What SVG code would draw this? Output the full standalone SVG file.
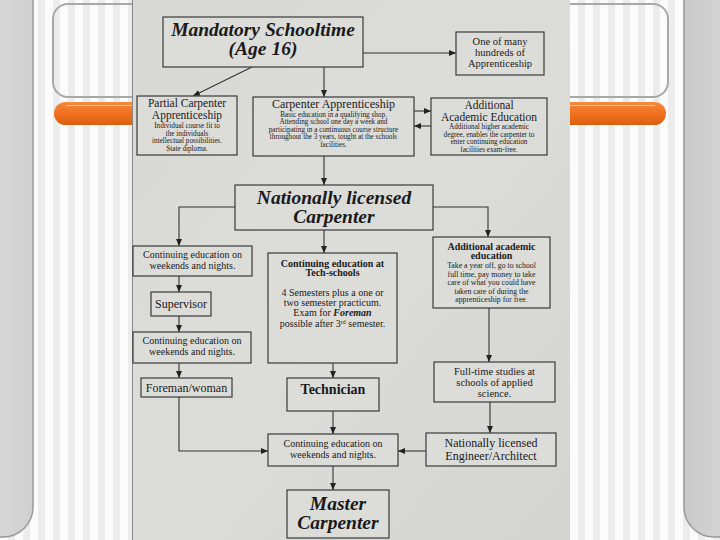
<svg xmlns="http://www.w3.org/2000/svg" width="720" height="540" viewBox="0 0 720 540">
<defs>
  <pattern id="stripes" x="0" y="0" width="15" height="10" patternUnits="userSpaceOnUse">
    <rect width="15" height="10" fill="#fbfbfb"/>
    <rect x="8" width="7" height="10" fill="#ececec"/>
  </pattern>
  <linearGradient id="panel" x1="0" y1="0" x2="1" y2="0">
    <stop offset="0" stop-color="#c9c9c9"/>
    <stop offset="0.6" stop-color="#d6d6d6"/>
    <stop offset="1" stop-color="#cfcfcf"/>
  </linearGradient>
  <linearGradient id="orange" x1="0" y1="0" x2="0" y2="1">
    <stop offset="0" stop-color="#f58a3c"/>
    <stop offset="0.5" stop-color="#f07020"/>
    <stop offset="1" stop-color="#d9600f"/>
  </linearGradient>
  <linearGradient id="photo" x1="0" y1="0" x2="1" y2="1">
    <stop offset="0" stop-color="#d8d8d5"/>
    <stop offset="0.5" stop-color="#dcdcd9"/>
    <stop offset="1" stop-color="#d4d4d1"/>
  </linearGradient>
  <marker id="ah" markerUnits="userSpaceOnUse" markerWidth="8" markerHeight="8" refX="7" refY="3" orient="auto">
    <path d="M0,0 L7,3 L0,6 Z" fill="#222"/>
  </marker>
  <style>
    .box { fill: #dcdcd9; stroke: #3a3a3a; stroke-width: 1.2; }
    .arr { fill: none; stroke: #333; stroke-width: 1.1; marker-end: url(#ah); }
    text { font-family: "Liberation Serif", "Times New Roman", serif; fill: #1a1a1a; text-anchor: middle; }
    .big { font-size: 19.5px; font-weight: bold; font-style: italic; }
    .t12 { font-size: 12px; }
    .t115 { font-size: 11.5px; }
    .t105 { font-size: 10.5px; }
    .t10 { font-size: 10px; }
    .s78 { font-size: 7.8px; }
    .s7 { font-size: 7.2px; }
    .b { font-weight: bold; }
  </style>
</defs>

<!-- slide background -->
<rect width="720" height="540" fill="url(#stripes)"/>
<rect x="-40" y="-30" width="73" height="567" rx="30" fill="url(#panel)" stroke="#9a9a9a" stroke-width="1.5"/>
<rect x="684" y="-30" width="80" height="567" rx="30" fill="url(#panel)" stroke="#9a9a9a" stroke-width="1.5"/>
<rect x="53" y="4" width="615" height="93" rx="15" fill="none" stroke="#a8a8a8" stroke-width="2"/>
<rect x="54" y="102" width="612" height="23" rx="11.5" fill="url(#orange)"/>
<line x1="66" y1="105.5" x2="655" y2="105.5" stroke="#fbc9a0" stroke-width="1.2"/>

<!-- photo -->
<rect x="132" y="0" width="438" height="540" fill="url(#photo)"/>
<line x1="132.5" y1="0" x2="132.5" y2="540" stroke="#8a8a88" stroke-width="1"/>

<g id="connectors">
  <line class="arr" x1="363" y1="53" x2="456" y2="53"/>
  <line class="arr" x1="252" y1="67" x2="193" y2="96"/>
  <line class="arr" x1="324" y1="67" x2="324" y2="97"/>
  <line class="arr" x1="414" y1="111" x2="431" y2="111"/>
  <line class="arr" x1="431" y1="126" x2="414" y2="126"/>
  <line class="arr" x1="324" y1="156" x2="324" y2="185"/>
  <polyline class="arr" points="235,207 179,207 179,246"/>
  <line class="arr" x1="324" y1="230" x2="324" y2="253"/>
  <polyline class="arr" points="433,207 488,207 488,237"/>
  <line class="arr" x1="179" y1="276" x2="179" y2="292"/>
  <line class="arr" x1="179" y1="316" x2="179" y2="332"/>
  <line class="arr" x1="179" y1="363" x2="179" y2="378"/>
  <polyline class="arr" points="179,397 179,451 268,451"/>
  <line class="arr" x1="333" y1="363" x2="333" y2="378"/>
  <line class="arr" x1="333" y1="411" x2="333" y2="434"/>
  <line class="arr" x1="489" y1="308" x2="489" y2="362"/>
  <line class="arr" x1="490" y1="402" x2="490" y2="433"/>
  <line class="arr" x1="426" y1="451" x2="398" y2="451"/>
  <line class="arr" x1="333" y1="466" x2="333" y2="490"/>
</g>

<g id="mandatory">
  <rect class="box" x="163" y="17" width="200" height="50"/>
  <text class="big" x="263" y="36">Mandatory Schooltime</text>
  <text class="big" x="263" y="55">(Age 16)</text>
</g>

<g id="one-of-many">
  <rect class="box" x="456" y="32" width="88" height="43"/>
  <text class="t105" x="500" y="45">One of many</text>
  <text class="t105" x="500" y="56">hundreds of</text>
  <text class="t105" x="500" y="67">Apprenticeship</text>
</g>

<g id="partial">
  <rect class="box" x="137" y="96" width="100" height="59"/>
  <text class="t115" x="187" y="107">Partial Carpenter</text>
  <text class="t115" x="187" y="119">Apprenticeship</text>
  <text class="s7" x="187" y="128">Individual course fit to</text>
  <text class="s7" x="187" y="135.5">the individuals</text>
  <text class="s7" x="187" y="143">intellectual possibilities.</text>
  <text class="s7" x="187" y="150.5">State diploma.</text>
</g>

<g id="carpenter-apprenticeship">
  <rect class="box" x="253" y="97" width="161" height="59"/>
  <text class="t12" x="333.5" y="108">Carpenter Apprenticeship</text>
  <text class="s7" x="333.5" y="116.5">Basic education in a qualifying shop.</text>
  <text class="s7" x="333.5" y="124">Attending school one day  a week and</text>
  <text class="s7" x="333.5" y="131.5">participating in a continuous course structure</text>
  <text class="s7" x="333.5" y="139">throughout the 3 years, tought at the schools</text>
  <text class="s7" x="333.5" y="146.5">facilities.</text>
</g>

<g id="additional-academic-education">
  <rect class="box" x="431" y="98" width="116" height="57"/>
  <text class="t115" x="489" y="108.5">Additional</text>
  <text class="t115" x="489" y="120.5">Academic Education</text>
  <text class="s7" x="489" y="129">Additional higher academic</text>
  <text class="s7" x="489" y="136.5">degree, enables the carpenter to</text>
  <text class="s7" x="489" y="144">enter continuing education</text>
  <text class="s7" x="489" y="151.5">facilities exam-free.</text>
</g>

<g id="nationally-licensed-carpenter">
  <rect class="box" x="235" y="185" width="198" height="45"/>
  <text class="big" x="334" y="204">Nationally licensed</text>
  <text class="big" x="334" y="223">Carpenter</text>
</g>

<g id="continuing-1">
  <rect class="box" x="133" y="246" width="119" height="30"/>
  <text class="t10" x="192.5" y="258">Continuing education on</text>
  <text class="t10" x="192.5" y="269">weekends and nights.</text>
</g>

<g id="supervisor">
  <rect class="box" x="151" y="292" width="60" height="24"/>
  <text class="t12" x="181" y="308">Supervisor</text>
</g>

<g id="continuing-2">
  <rect class="box" x="133" y="332" width="118" height="31"/>
  <text class="t10" x="192" y="344">Continuing education on</text>
  <text class="t10" x="192" y="355">weekends and nights.</text>
</g>

<g id="foreman">
  <rect class="box" x="141" y="378" width="91" height="19"/>
  <text class="t12" x="186.5" y="392">Foreman/woman</text>
</g>

<g id="tech-schools">
  <rect class="box" x="268" y="253" width="129" height="110"/>
  <text class="t10 b" x="332.5" y="266.5">Continuing education at</text>
  <text class="t10 b" x="332.5" y="276">Tech-schools</text>
  <text class="t10" x="332.5" y="296">4 Semesters plus a one or</text>
  <text class="t10" x="332.5" y="306">two semester practicum.</text>
  <text class="t10" x="332.5" y="316">Exam for <tspan font-weight="bold" font-style="italic">Foreman</tspan></text>
  <text class="t10" x="332.5" y="327">possible after 3<tspan font-size="6px" dy="-3.5">rd</tspan><tspan dy="3.5"> semester.</tspan></text>
</g>

<g id="technician">
  <rect class="box" x="287" y="378" width="92" height="33"/>
  <text class="b" font-size="14px" x="333" y="394">Technician</text>
</g>

<g id="additional-academic-lower">
  <rect class="box" x="433" y="237" width="117" height="71"/>
  <text class="t10 b" x="491.5" y="249.5">Additional academic</text>
  <text class="t10 b" x="491.5" y="259">education</text>
  <text class="s78" x="491.5" y="268">Take a year off, go to school</text>
  <text class="s78" x="491.5" y="276.5">full time, pay money to take</text>
  <text class="s78" x="491.5" y="285">care of what you could have</text>
  <text class="s78" x="491.5" y="293.5">taken care of during the</text>
  <text class="s78" x="491.5" y="302">apprenticeship for free.</text>
</g>

<g id="full-time-studies">
  <rect class="box" x="434" y="362" width="121" height="40"/>
  <text class="t105" x="494.5" y="375">Full-time studies at</text>
  <text class="t105" x="494.5" y="386">schools of applied</text>
  <text class="t105" x="494.5" y="397">science.</text>
</g>

<g id="continuing-bottom">
  <rect class="box" x="268" y="434" width="130" height="32"/>
  <text class="t10" x="333" y="447">Continuing education on</text>
  <text class="t10" x="333" y="458">weekends and nights.</text>
</g>

<g id="engineer">
  <rect class="box" x="426" y="433" width="130" height="33"/>
  <text class="t12" x="491" y="447">Nationally licensed</text>
  <text class="t12" x="491" y="460">Engineer/Architect</text>
</g>

<g id="master-carpenter">
  <rect class="box" x="287" y="490" width="102" height="48"/>
  <text class="big" font-size="18.5px" x="338" y="510">Master</text>
  <text class="big" font-size="18.5px" x="338" y="529">Carpenter</text>
</g>
</svg>
